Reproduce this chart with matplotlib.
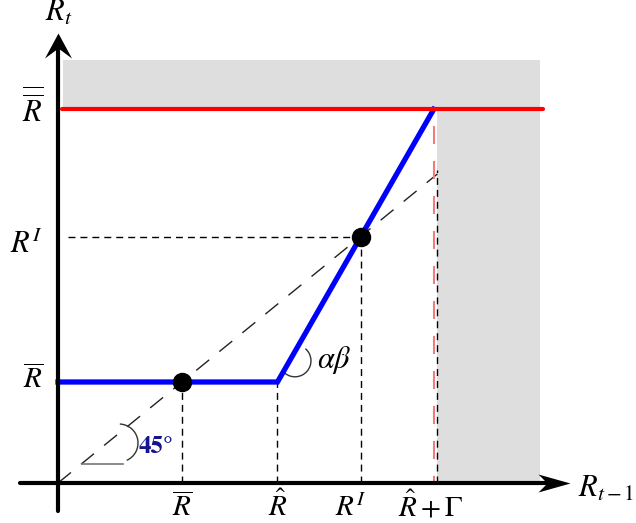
import matplotlib.pyplot as plt
import numpy as np
from matplotlib.patches import Arc
from matplotlib.path import Path

plt.rcParams['mathtext.fontset'] = 'stix'
plt.rcParams['font.family'] = 'STIXGeneral'
plt.rcParams['lines.scale_dashes'] = False

# levels of the rule, in units of R bar
r_bar = 1.0
r_hat = 1.77
r_i = 2.44
r_hat_gamma = 3.03
r_bbar = 3.70

# piecewise rule R_t = f(R_{t-1})
rule_x = [0.0, r_hat, r_hat_gamma]
rule_y = [r_bar, r_bar, r_bbar]

# intersections with the 45 degree line
fixed_x = [r_bar, r_i]
fixed_y = [r_bar, r_i]

x_ticks = [r_bar, r_hat, r_i, r_hat_gamma]
x_tick_labels = [r'$\overline{R}$', r'$\hat{R}$', r'$R^I$', r'$\hat{R}+\Gamma$']
y_ticks = [r_bbar, r_i, r_bar]
y_tick_labels = [r'$\overline{\overline{R}}$', r'$R^I$', r'$\overline{R}$']

# shaded (infeasible) region
shade_x = [0.04, 3.06, 3.89]
shade_top = 4.19

fig = plt.figure(figsize=(6.36, 5.23), dpi=100)
ax = fig.add_axes([0, 0, 1, 1])
ax.set_xlim(-58 / 124, 578 / 124)
ax.set_ylim(-40 / 101, 483 / 101)
ax.axis('off')

gray = '#dedede'
ax.fill_between(shade_x[:2], r_bbar, shade_top, color=gray, lw=0, zorder=0)
ax.fill_between(shade_x[1:], 0, shade_top, color=gray, lw=0, zorder=0)


def arrow_head(verts):
    codes = [Path.MOVETO, Path.LINETO, Path.LINETO, Path.LINETO, Path.CLOSEPOLY]
    return Path(verts, codes)


# axes with arrow heads
x_end, y_end = 512 / 124, 450 / 101
ax.plot([-0.306, x_end - 23 / 124], [0, 0], color='k', lw=3, solid_capstyle='round', zorder=4)
ax.plot([0, 0], [-0.277, y_end - 15 / 101], color='k', lw=3, solid_capstyle='round', zorder=4)
right_head = arrow_head([(0, 0), (-32, 9), (-23, 0), (-32, -9), (0, 0)])
up_head = arrow_head([(0, 0), (-13.5, -25), (0, -15), (13.5, -25), (0, 0)])
ax.plot([x_end], [0], marker=right_head, ms=2 * 32 * 0.72, color='k',
        markeredgewidth=0, zorder=4)
ax.plot([0], [y_end], marker=up_head, ms=2 * 25 * 0.72, color='k',
        markeredgewidth=0, zorder=4)

# 45 degree line
ax.plot([0, shade_x[1]], [0, shade_x[1]], color='#222222', lw=1,
        linestyle=(0, (12, 9.4)), zorder=1)

# guide lines
thin = dict(color='k', lw=1, linestyle=(0, (5, 3.6)), zorder=1)
for x in [r_bar, r_hat, r_i]:
    ax.plot([x, x], [0, np.interp(x, rule_x, rule_y)], **thin)
ax.plot([0.08, r_i], [r_i, r_i], **thin)
ax.plot([shade_x[1], shade_x[1]], [0, 3.1], **thin)
ax.plot([r_hat_gamma, r_hat_gamma], [r_bbar, 0], color='#f27c7c', lw=1.5,
        linestyle=(13, (13, 12.2)), zorder=1)

# rule and ceiling
ax.plot(rule_x, rule_y, color='#0000ff', lw=3.8, solid_joinstyle='miter', zorder=2)
ax.plot([0.03, 3.91], [r_bbar, r_bbar], color='#ff0000', lw=3,
        solid_capstyle='round', zorder=3)
ax.plot(fixed_x, fixed_y, 'o', color='k', ms=13, zorder=5)

# angle marks
ax.plot([0.194, 0.524], [0.188, 0.188], color='#777777', lw=1.2, zorder=1)
ax.add_patch(Arc((0.492, 0.396), 38 / 124, 38 / 101, theta1=-70, theta2=88,
                 color='#333333', lw=1))
ax.text(0.653, 0.356, '45°', color='#14148c', fontsize=18, fontweight='bold',
        ha='left', va='center')
ax.add_patch(Arc((1.911, 1.21), 32 / 124, 32 / 101, theta1=-125, theta2=55,
                 color='#333333', lw=1))
ax.text(2.09, 1.218, r'$\alpha\beta$', fontsize=22, ha='left', va='center')

# tick labels
x_offsets = [0, 0, -10, -3]
for x, lab, dx in zip(x_ticks, x_tick_labels, x_offsets):
    ax.annotate(lab, xy=(x, 0), xytext=(dx, -33), textcoords='offset pixels',
                ha='center', va='baseline', fontsize=21)
y_offsets = [-13, -16, -6]
y_sizes = [22, 22, 21]
for y, lab, dy, fs in zip(y_ticks, y_tick_labels, y_offsets, y_sizes):
    ax.annotate(lab, xy=(0, y), xytext=(-15, dy), textcoords='offset pixels',
                ha='right', va='baseline', fontsize=fs)

ax.text(4.645, -0.139, r'$R_{t-1}$', fontsize=22, ha='right', va='baseline')
ax.text(-0.105, 4.574, r'$R_t$', fontsize=22, ha='left', va='baseline')

fig.savefig('out.png', dpi=100)
